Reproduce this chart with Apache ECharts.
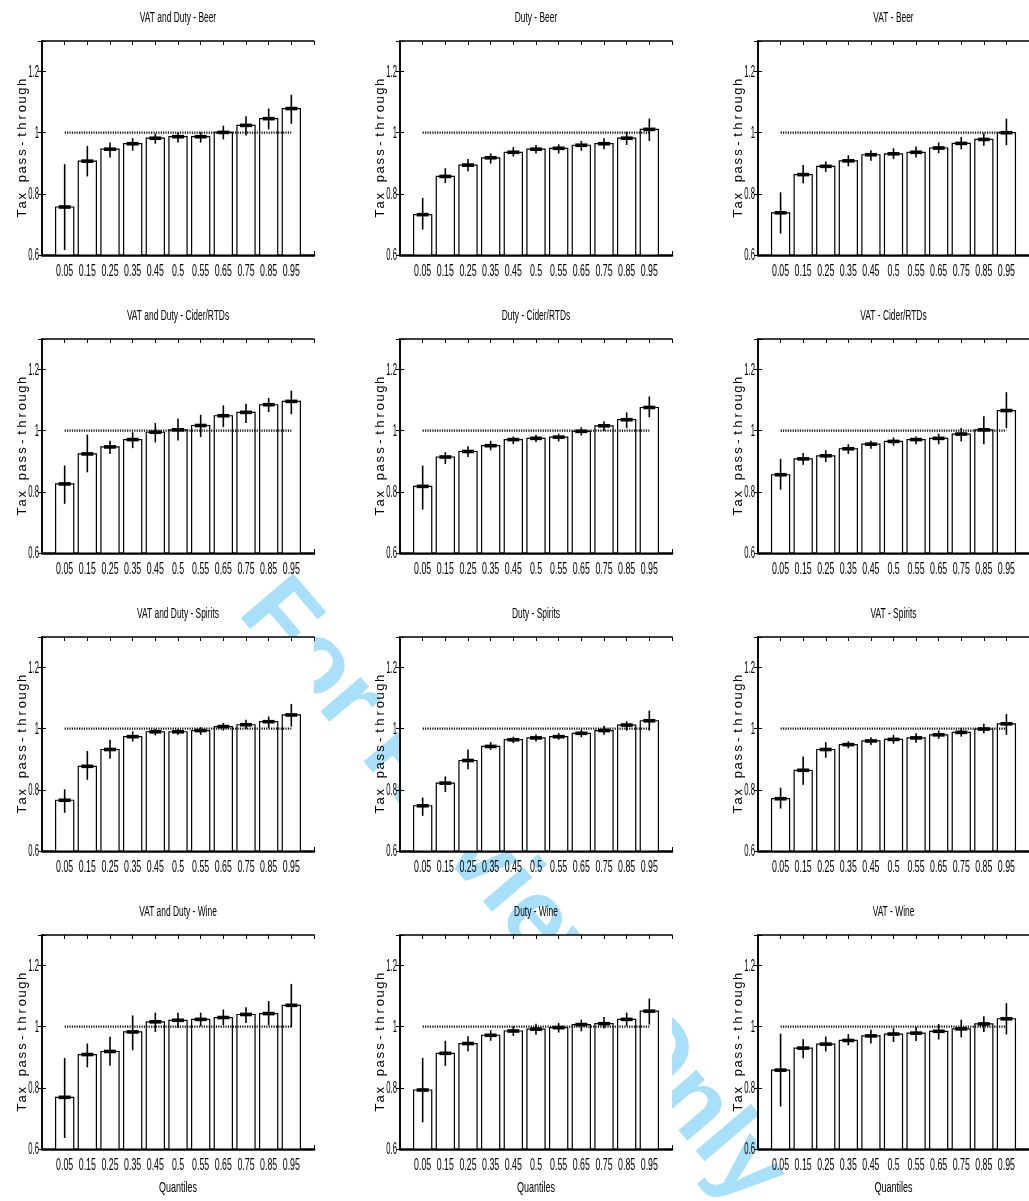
<!DOCTYPE html>
<html>
<head>
<meta charset="utf-8">
<script src="https://cdn.jsdelivr.net/npm/echarts@6/dist/echarts.min.js"></script>
<style>
  html, body { margin: 0; padding: 0; background: #fff; }
  #chart { width: 1029px; height: 1201px; }
</style>
</head>
<body>
<div id="chart"></div>
<script>
// Quantile labels on the x axis (bars sit at positions 1..11, axis runs 0..12)
const quantileLabels = ['0.05', '0.15', '0.25', '0.35', '0.45', '0.5', '0.55', '0.65', '0.75', '0.85', '0.95'];
const yTicks = [0.6, 0.8, 1.0, 1.2];
const yTickLabels = ['0.6', '0.8', '1', '1.2'];

// Point estimates (est) and confidence bounds (lo, hi) of tax pass-through per quantile
const vatDutyBeerEst = [0.757, 0.907, 0.946, 0.964, 0.982, 0.987, 0.987, 1.001, 1.024, 1.046, 1.079];
const vatDutyBeerLo  = [0.616, 0.857, 0.919, 0.941, 0.964, 0.968, 0.968, 0.978, 0.991, 1.011, 1.029];
const vatDutyBeerHi  = [0.897, 0.957, 0.968, 0.982, 0.997, 1.000, 1.002, 1.023, 1.054, 1.079, 1.124];

const dutyBeerEst = [0.732, 0.857, 0.894, 0.918, 0.936, 0.946, 0.949, 0.959, 0.964, 0.982, 1.011];
const dutyBeerLo  = [0.683, 0.835, 0.874, 0.899, 0.922, 0.932, 0.932, 0.941, 0.946, 0.960, 0.973];
const dutyBeerHi  = [0.787, 0.884, 0.914, 0.932, 0.953, 0.960, 0.962, 0.973, 0.982, 1.003, 1.046];

const vatBeerEst = [0.738, 0.863, 0.890, 0.908, 0.928, 0.931, 0.936, 0.950, 0.965, 0.978, 1.000];
const vatBeerLo  = [0.670, 0.835, 0.872, 0.890, 0.908, 0.914, 0.919, 0.933, 0.946, 0.957, 0.959];
const vatBeerHi  = [0.805, 0.894, 0.906, 0.926, 0.943, 0.949, 0.955, 0.968, 0.986, 0.998, 1.046];

const vatDutyCiderEst = [0.826, 0.924, 0.947, 0.971, 0.995, 1.003, 1.017, 1.049, 1.060, 1.085, 1.096];
const vatDutyCiderLo  = [0.761, 0.864, 0.924, 0.943, 0.962, 0.968, 0.979, 1.012, 1.025, 1.061, 1.054];
const vatDutyCiderHi  = [0.886, 0.987, 0.967, 0.995, 1.025, 1.039, 1.052, 1.083, 1.088, 1.107, 1.131];

const dutyCiderEst = [0.818, 0.914, 0.932, 0.951, 0.971, 0.975, 0.979, 0.998, 1.016, 1.036, 1.076];
const dutyCiderLo  = [0.742, 0.891, 0.914, 0.936, 0.956, 0.963, 0.965, 0.984, 0.999, 1.009, 1.044];
const dutyCiderHi  = [0.886, 0.930, 0.949, 0.967, 0.981, 0.987, 0.990, 1.011, 1.031, 1.060, 1.112];

const vatCiderEst = [0.856, 0.908, 0.918, 0.941, 0.956, 0.965, 0.971, 0.975, 0.989, 1.003, 1.066];
const vatCiderLo  = [0.807, 0.889, 0.898, 0.924, 0.941, 0.951, 0.956, 0.956, 0.965, 0.956, 1.009];
const vatCiderHi  = [0.908, 0.927, 0.936, 0.956, 0.967, 0.978, 0.981, 0.990, 1.009, 1.047, 1.126];

const vatDutySpiritsEst = [0.766, 0.877, 0.932, 0.974, 0.990, 0.990, 0.994, 1.007, 1.013, 1.023, 1.045];
const vatDutySpiritsLo  = [0.725, 0.833, 0.902, 0.958, 0.978, 0.980, 0.980, 0.994, 0.999, 1.003, 1.007];
const vatDutySpiritsHi  = [0.802, 0.927, 0.964, 0.991, 0.999, 0.999, 1.005, 1.019, 1.029, 1.040, 1.081];

const dutySpiritsEst = [0.748, 0.822, 0.896, 0.942, 0.964, 0.970, 0.974, 0.985, 0.994, 1.012, 1.026];
const dutySpiritsLo  = [0.715, 0.793, 0.867, 0.931, 0.953, 0.958, 0.964, 0.972, 0.980, 0.994, 0.994];
const dutySpiritsHi  = [0.775, 0.844, 0.932, 0.956, 0.974, 0.981, 0.986, 0.997, 1.010, 1.024, 1.059];

const vatSpiritsEst = [0.771, 0.864, 0.932, 0.948, 0.960, 0.965, 0.970, 0.980, 0.988, 0.999, 1.016];
const vatSpiritsLo  = [0.739, 0.817, 0.905, 0.936, 0.947, 0.951, 0.954, 0.967, 0.974, 0.985, 0.980];
const vatSpiritsHi  = [0.807, 0.909, 0.956, 0.959, 0.972, 0.980, 0.985, 0.994, 1.003, 1.016, 1.048];

const vatDutyWineEst = [0.769, 0.909, 0.919, 0.983, 1.016, 1.021, 1.024, 1.030, 1.040, 1.043, 1.070];
const vatDutyWineLo  = [0.636, 0.867, 0.872, 0.923, 0.983, 0.996, 1.002, 1.005, 1.012, 1.005, 0.999];
const vatDutyWineHi  = [0.898, 0.945, 0.967, 1.037, 1.046, 1.046, 1.046, 1.056, 1.064, 1.084, 1.140];

const dutyWineEst = [0.793, 0.913, 0.945, 0.972, 0.986, 0.992, 0.997, 1.007, 1.010, 1.024, 1.051];
const dutyWineLo  = [0.687, 0.872, 0.920, 0.954, 0.970, 0.974, 0.981, 0.985, 0.994, 1.003, 1.007];
const dutyWineHi  = [0.898, 0.954, 0.969, 0.989, 1.001, 1.010, 1.012, 1.023, 1.032, 1.046, 1.092];

const vatWineEst = [0.858, 0.930, 0.943, 0.955, 0.970, 0.976, 0.979, 0.985, 0.993, 1.009, 1.026];
const vatWineLo  = [0.739, 0.897, 0.919, 0.939, 0.945, 0.950, 0.953, 0.958, 0.965, 0.983, 0.975];
const vatWineHi  = [0.977, 0.959, 0.968, 0.976, 0.990, 0.995, 0.999, 1.009, 1.023, 1.034, 1.077];

// Panels in reading order: rows = product, columns = tax type
const panels = [
  { title: 'VAT and Duty - Beer', est: vatDutyBeerEst, lo: vatDutyBeerLo, hi: vatDutyBeerHi },
  { title: 'Duty - Beer', est: dutyBeerEst, lo: dutyBeerLo, hi: dutyBeerHi },
  { title: 'VAT - Beer', est: vatBeerEst, lo: vatBeerLo, hi: vatBeerHi },
  { title: 'VAT and Duty - Cider/RTDs', est: vatDutyCiderEst, lo: vatDutyCiderLo, hi: vatDutyCiderHi },
  { title: 'Duty - Cider/RTDs', est: dutyCiderEst, lo: dutyCiderLo, hi: dutyCiderHi },
  { title: 'VAT - Cider/RTDs', est: vatCiderEst, lo: vatCiderLo, hi: vatCiderHi },
  { title: 'VAT and Duty - Spirits', est: vatDutySpiritsEst, lo: vatDutySpiritsLo, hi: vatDutySpiritsHi },
  { title: 'Duty - Spirits', est: dutySpiritsEst, lo: dutySpiritsLo, hi: dutySpiritsHi },
  { title: 'VAT - Spirits', est: vatSpiritsEst, lo: vatSpiritsLo, hi: vatSpiritsHi },
  { title: 'VAT and Duty - Wine', est: vatDutyWineEst, lo: vatDutyWineLo, hi: vatDutyWineHi },
  { title: 'Duty - Wine', est: dutyWineEst, lo: dutyWineLo, hi: dutyWineHi },
  { title: 'VAT - Wine', est: vatWineEst, lo: vatWineLo, hi: vatWineHi }
];
const yName = 'Tax pass-through';
const xName = 'Quantiles';

const FONT = "'Liberation Sans', Arial, sans-serif";
const colLeft = [42, 400, 758];
const rowTop = [41, 339, 637, 935];
const plotW = 272, plotH = 214;

const chart = echarts.init(document.getElementById('chart'), null, { renderer: 'canvas' });

// White bar with black outline from the 0.6 baseline up to the estimate
function renderBar(params, api) {
  const x = api.value(0), v = api.value(1);
  const top = api.coord([x, v]);
  const base = api.coord([x, 0.6]);
  const w = api.size([0.8, 0])[0];
  return {
    type: 'rect',
    shape: { x: top[0] - w / 2, y: top[1], width: w, height: base[1] - top[1] },
    style: { fill: '#fff', stroke: '#000', lineWidth: 1.2 }
  };
}

// Confidence interval: vertical whisker plus a thick tick at the estimate
function renderErr(params, api) {
  const x = api.value(0), v = api.value(1), lo = api.value(2), hi = api.value(3);
  const pHi = api.coord([x, hi]), pLo = api.coord([x, lo]), pV = api.coord([x, v]);
  return {
    type: 'group',
    children: [
      { type: 'line', shape: { x1: pHi[0], y1: pHi[1], x2: pLo[0], y2: pLo[1] },
        style: { stroke: '#000', lineWidth: 1.6 } },
      { type: 'rect', shape: { x: pV[0] - 6, y: pV[1] - 1.8, width: 12, height: 3.6 },
        style: { fill: '#000' } }
    ]
  };
}

// Letter-spaced y-axis name: one fixed-width rich token per character
const yNameRich = yName.split('').map(ch => '{c|' + ch + '}').join('');

const grid = [], xAxis = [], yAxis = [], series = [];

panels.forEach((p, i) => {
  const r = Math.floor(i / 3), c = i % 3;
  const left = colLeft[c], top = rowTop[r];
  grid.push({ left: left, top: top, width: plotW, height: plotH,
    show: true, backgroundColor: '#fff', borderWidth: 0 });
  const xBase = { type: 'value', gridIndex: i, min: 0, max: 12, interval: 1, splitLine: { show: false } };
  xAxis.push(Object.assign({}, xBase, {
    position: 'bottom',
    axisLine: { lineStyle: { color: '#000', width: 2.6 } },
    axisTick: { inside: true, length: 4, lineStyle: { color: '#000' } },
    axisLabel: { show: false }
  }));
  xAxis.push(Object.assign({}, xBase, {
    position: 'top',
    axisLine: { lineStyle: { color: '#000', width: 1.6 } },
    axisTick: { inside: true, length: 4, lineStyle: { color: '#000' } },
    axisLabel: { show: false }
  }));
  const yBase = { type: 'value', gridIndex: i, min: 0.6, max: 1.3, interval: 0.2, splitLine: { show: false } };
  yAxis.push(Object.assign({}, yBase, {
    position: 'left',
    axisLine: { lineStyle: { color: '#000', width: 1.6 } },
    axisTick: { inside: true, length: 4, lineStyle: { color: '#000' } },
    axisLabel: { show: false },
    name: yNameRich, nameLocation: 'middle', nameGap: 13,
    nameTextStyle: {
      rich: { c: { width: 8.75, align: 'center', fontFamily: FONT, fontSize: 13, color: '#000' } }
    }
  }));
  yAxis.push(Object.assign({}, yBase, {
    position: 'right',
    axisLine: { lineStyle: { color: '#000', width: 1.6 } },
    axisTick: { inside: true, length: 4, lineStyle: { color: '#000' } },
    axisLabel: { show: false }
  }));

  const rows = p.est.map((v, k) => [k + 1, v, p.lo[k], p.hi[k]]);
  series.push({
    type: 'custom', xAxisIndex: 2 * i, yAxisIndex: 2 * i, z: 2,
    renderItem: renderBar, encode: { x: 0, y: 1 }, data: rows, silent: true
  });
  series.push({
    type: 'line', xAxisIndex: 2 * i, yAxisIndex: 2 * i, z: 3,
    data: [[1, 1], [11, 1]], symbol: 'none', silent: true,
    lineStyle: { color: '#111', width: 2.2, type: [1.2, 1.2] }
  });
  series.push({
    type: 'custom', xAxisIndex: 2 * i, yAxisIndex: 2 * i, z: 4,
    renderItem: renderErr, encode: { x: 0, y: [1, 2, 3] }, data: rows, silent: true
  });
});

chart.setOption({
  animation: false,
  backgroundColor: '#fff',
  grid: grid,
  xAxis: xAxis,
  yAxis: yAxis,
  series: series
});

// Condensed text (titles, tick labels) placed through each panel's own axes
function condensedText(x, y, text, size, sx, align, vAlign) {
  return {
    type: 'text', x: x, y: y, scaleX: sx, z: 100, silent: true,
    style: { text: text, fill: '#000', font: size + 'px ' + FONT, textAlign: align, textVerticalAlign: vAlign }
  };
}

const graphics = [{
  type: 'text', z: -10,
  x: 512, y: 893, rotation: -Math.PI * 0.275, silent: true,
  style: {
    text: 'For Review Only', fill: '#a8e0f9',
    font: "bold 100px 'Liberation Sans', sans-serif",
    textAlign: 'center', textVerticalAlign: 'middle'
  }
}];

panels.forEach((p, i) => {
  const r = Math.floor(i / 3);
  const finder = { seriesIndex: 3 * i };
  const topLeft = chart.convertToPixel(finder, [0, 1.3]);
  const botRight = chart.convertToPixel(finder, [12, 0.6]);
  const cx = (topLeft[0] + botRight[0]) / 2;
  graphics.push(condensedText(cx, topLeft[1] - 23, p.title, 14, 0.6, 'center', 'middle'));
  quantileLabels.forEach((q, k) => {
    const pt = chart.convertToPixel(finder, [k + 1, 0.6]);
    graphics.push(condensedText(pt[0], pt[1] + 17, q, 16, 0.55, 'center', 'middle'));
  });
  yTicks.forEach((t, k) => {
    const pt = chart.convertToPixel(finder, [0, t]);
    graphics.push(condensedText(pt[0] - 3, pt[1] + 0.5, yTickLabels[k], 17, 0.45, 'right', 'middle'));
  });
  if (r === 3) {
    graphics.push(condensedText(cx, botRight[1] + 39, xName, 15, 0.6, 'center', 'middle'));
  }
});

chart.setOption({ graphic: graphics });
</script>
</body>
</html>
